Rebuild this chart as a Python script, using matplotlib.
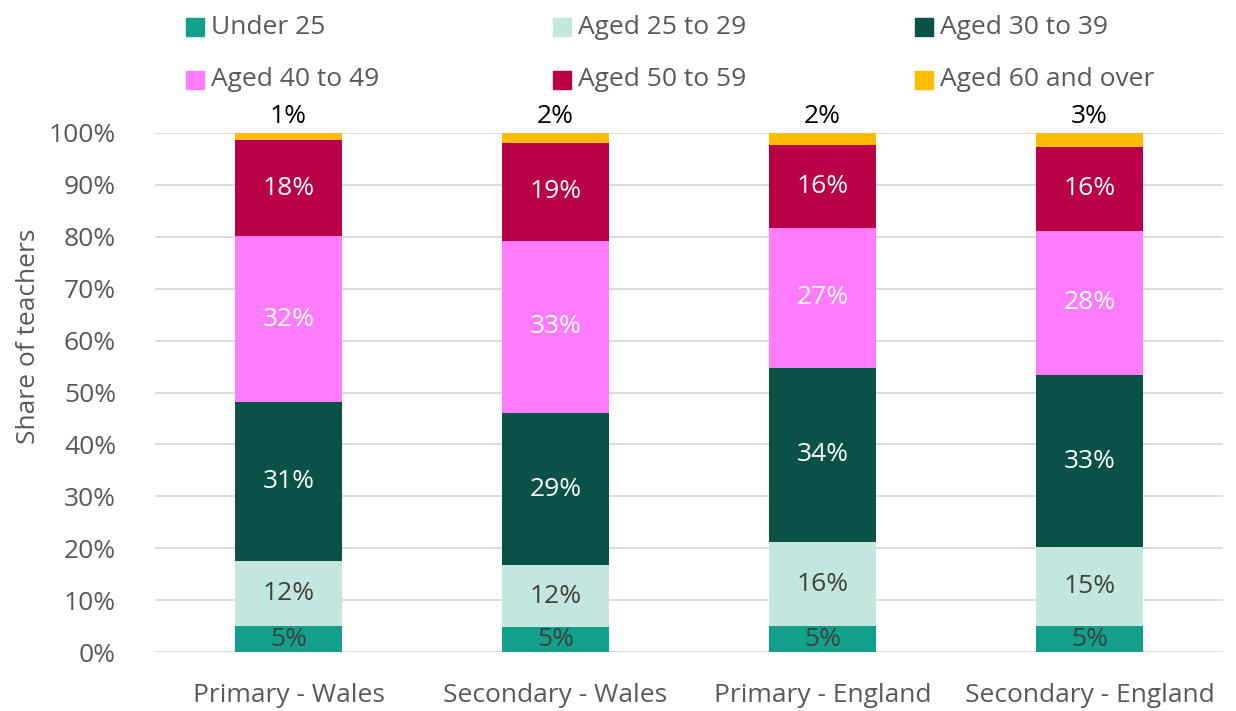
import matplotlib
matplotlib.use("Agg")
import matplotlib.pyplot as plt
from matplotlib.patches import Rectangle
import numpy as np

categories = ["Primary - Wales", "Secondary - Wales", "Primary - England", "Secondary - England"]
series_names = ["Under 25", "Aged 25 to 29", "Aged 30 to 39", "Aged 40 to 49", "Aged 50 to 59", "Aged 60 and over"]
under25 = [5.0, 4.8, 5.0, 5.0]
aged25_29 = [12.5, 11.9, 16.2, 15.2]
aged30_39 = [30.6, 29.4, 33.6, 33.1]
aged40_49 = [32.1, 33.1, 26.9, 27.9]
aged50_59 = [18.4, 18.9, 16.0, 16.1]
aged60_over = [1.4, 1.9, 2.3, 2.7]
yticklabels = ["0%", "10%", "20%", "30%", "40%", "50%", "60%", "70%", "80%", "90%", "100%"]

colors = ["#12A08A", "#C3E6DF", "#0A5247", "#FF7BFF", "#BA0047", "#FFBC00"]
label_colors = ["#404040", "#404040", "white", "white", "white", "black"]

plt.rcParams['font.family'] = ['Open Sans', 'DejaVu Sans']
FS = 19
grey = "#595959"

fig = plt.figure(figsize=(12.36, 7.11), dpi=100)
W, H = 1236, 711
ax = fig.add_axes([155 / W, (H - 652) / H, (1223 - 155) / W, (652 - 133) / H])

data = [under25, aged25_29, aged30_39, aged40_49, aged50_59, aged60_over]
x = np.arange(len(categories))
bottom = np.zeros(len(categories))
for i, vals in enumerate(data):
    v = np.array(vals) / 100.0
    ax.bar(x, v, bottom=bottom, width=0.4, color=colors[i], zorder=3)
    for j in range(len(categories)):
        txt = f"{round(vals[j]):d}%"
        if i == len(data) - 1:
            ax.text(x[j], bottom[j] + v[j] + 0.008, txt, ha="center", va="bottom",
                    fontsize=FS, color=label_colors[i], zorder=4)
        else:
            ax.text(x[j], bottom[j] + v[j] / 2, txt, ha="center", va="center",
                    fontsize=FS, color=label_colors[i], zorder=4)
    bottom = bottom + v

ax.set_xlim(-0.5, len(categories) - 0.5)
ax.set_ylim(0, 1)
ax.set_yticks(np.linspace(0, 1, 11))
ax.set_yticklabels(yticklabels)
ax.set_xticks(x)
ax.set_xticklabels(categories)
ax.tick_params(axis="both", length=0, labelsize=FS, colors=grey)
ax.tick_params(axis="x", pad=22)
ax.tick_params(axis="y", pad=28)
ax.grid(axis="y", color="#D9D9D9", linewidth=1.3, zorder=0)
for s in ax.spines.values():
    s.set_visible(False)
ax.set_ylabel("Share of teachers", fontsize=FS, color=grey)
ax.yaxis.set_label_coords(-0.107, 0.609)

# Legend (manual, two rows of three)
col_x = [186, 553, 915]
row_y = [27, 80]
sq = 18
for k, name in enumerate(series_names):
    r, c = divmod(k, 3)
    px, py = col_x[c], row_y[r]
    fig.patches.append(Rectangle((px / W, (H - py - sq / 2) / H), sq / W, sq / H,
                                 transform=fig.transFigure, color=colors[k]))
    fig.text((px + sq + 7) / W, (H - py) / H, name, ha="left", va="center",
             fontsize=FS, color=grey)

fig.savefig("out.png", dpi=100)
